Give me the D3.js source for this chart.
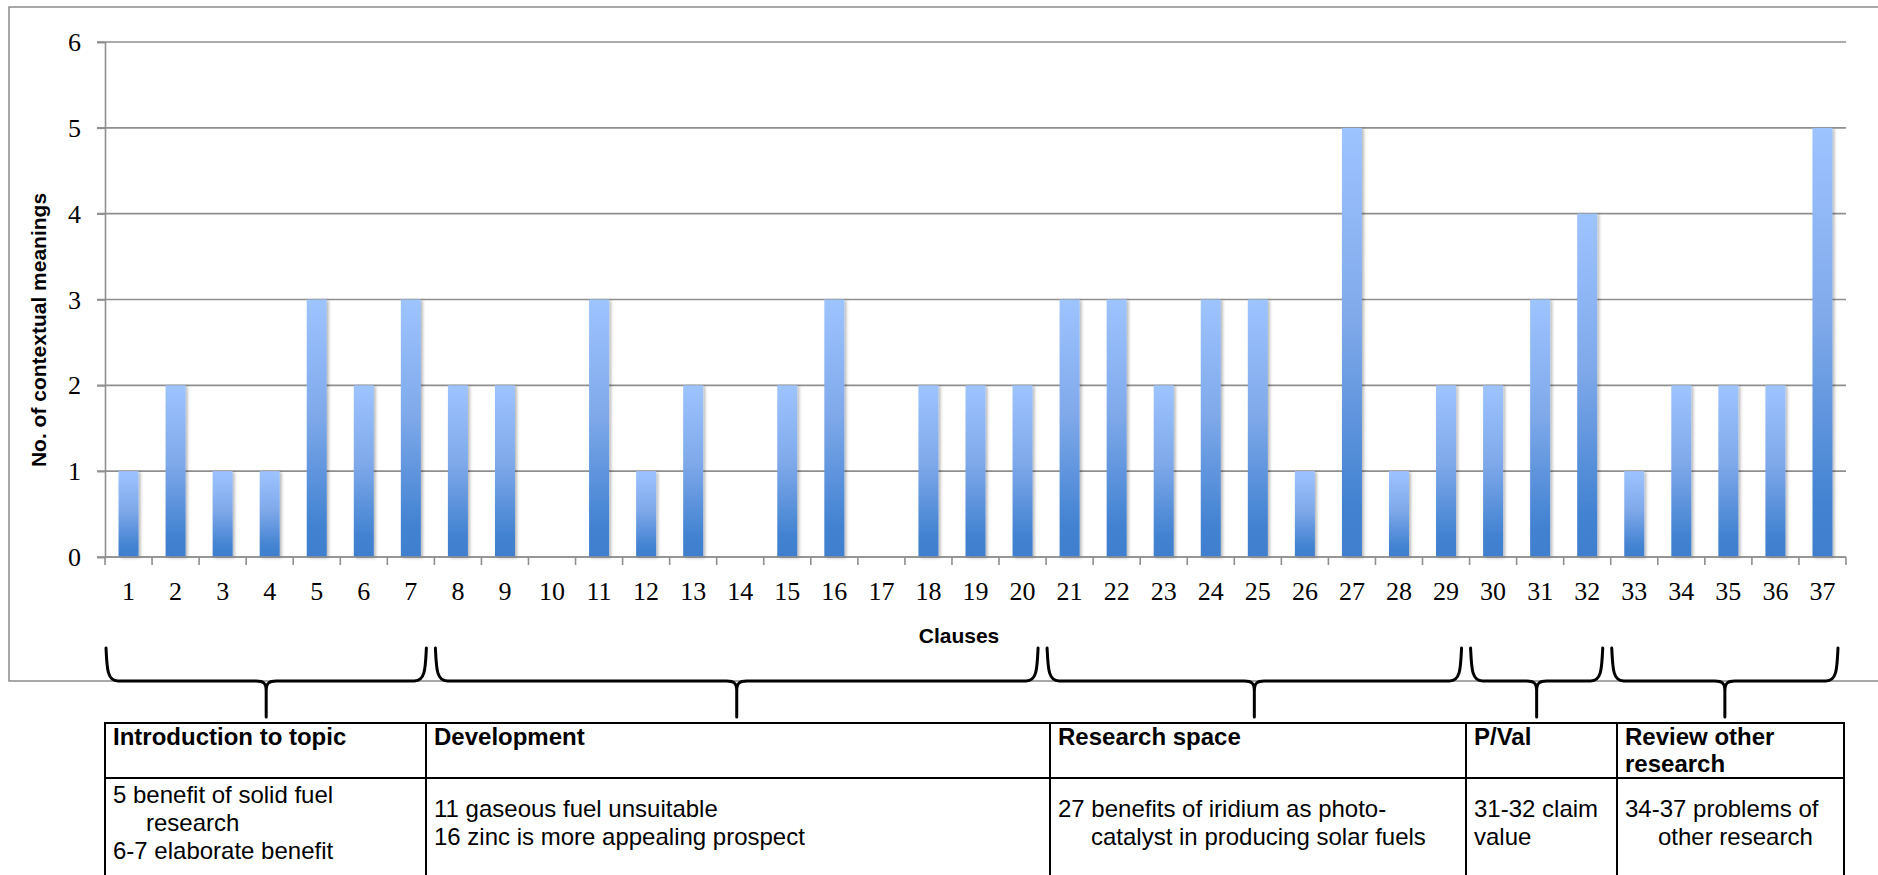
<!DOCTYPE html>
<html>
<head>
<meta charset="utf-8">
<script src="https://cdn.jsdelivr.net/npm/d3@7"></script>
<style>
  html, body { margin: 0; padding: 0; background: #fff; }
  svg { display: block; }
</style>
</head>
<body>
<svg id="chart" width="1878" height="875"></svg>
<script>
// Clause numbers and the count of contextual meanings found in each
const clauses = d3.range(1, 38).map(String);
const meanings = [1, 2, 1, 1, 3, 2, 3, 2, 2, 0, 3, 1, 2, 0, 2, 3, 0, 2, 2, 2,
                  3, 3, 2, 3, 3, 1, 5, 1, 2, 2, 3, 4, 1, 2, 2, 2, 5];
const yTicks = [0, 1, 2, 3, 4, 5, 6];

// Rhetorical sections: first and last clause of each, title and notes
const sectionFirst = [1, 8, 21, 30, 33];
const sectionLast  = [7, 20, 29, 32, 37];
const sectionTitles = [
  ["Introduction to topic"],
  ["Development"],
  ["Research space"],
  ["P/Val"],
  ["Review other", "research"]
];
// each note line: [text, hanging-indent?]
const sectionNotes = [
  [["5 benefit of solid fuel", false], ["research", true], ["6-7 elaborate benefit", false]],
  [["11 gaseous fuel unsuitable", false], ["16 zinc is more appealing prospect", false]],
  [["27 benefits of iridium as photo-", false], ["catalyst in producing solar fuels", true]],
  [["31-32 claim", false], ["value", false]],
  [["34-37 problems of", false], ["other research", true]]
];

const svg = d3.select("#chart");
const sans = "'Liberation Sans', Arial, sans-serif";
const serif = "'Liberation Serif', 'Times New Roman', serif";

// plot area
const plot = { left: 105, right: 1846, top: 42, bottom: 557 };

const x = d3.scaleBand()
  .domain(clauses)
  .range([plot.left, plot.right])
  .paddingInner(0.575)
  .paddingOuter(0.2875);
const step = x.step();
const cx = d => x(d) + x.bandwidth() / 2;

const y = d3.scaleLinear().domain([0, 6]).range([plot.bottom, plot.top]);

// defs: bar gradient and soft shadow
const defs = svg.append("defs");
const grad = defs.append("linearGradient")
  .attr("id", "barGrad").attr("x1", 0).attr("y1", 0).attr("x2", 0).attr("y2", 1);
grad.append("stop").attr("offset", "0%").attr("stop-color", "#9ec4ff");
grad.append("stop").attr("offset", "45%").attr("stop-color", "#7fa9ea");
grad.append("stop").attr("offset", "88%").attr("stop-color", "#4282d1");
grad.append("stop").attr("offset", "100%").attr("stop-color", "#3f7fce");
const shadow = defs.append("filter").attr("id", "barShadow")
  .attr("x", "-30%").attr("y", "-5%").attr("width", "170%").attr("height", "115%");
shadow.append("feDropShadow")
  .attr("dx", 2).attr("dy", 1).attr("stdDeviation", 1.6)
  .attr("flood-color", "#000").attr("flood-opacity", 0.28);

// outer chart frame (runs off the right edge)
svg.append("rect")
  .attr("x", 9).attr("y", 7).attr("width", 1900).attr("height", 674)
  .attr("fill", "none").attr("stroke", "#8c8c8c").attr("stroke-width", 1.5);

// horizontal gridlines
svg.append("g").selectAll("line").data(yTicks).join("line")
  .attr("x1", plot.left - 8).attr("x2", plot.right)
  .attr("y1", d => y(d)).attr("y2", d => y(d))
  .attr("stroke", "#8f8f8f").attr("stroke-width", 1.6);

// y axis
const yAxis = svg.append("g")
  .attr("transform", `translate(${plot.left},0)`)
  .call(d3.axisLeft(y).tickValues(yTicks).tickFormat(d3.format("d")).tickSize(8).tickPadding(16));
yAxis.select(".domain").attr("stroke", "#8f8f8f").attr("stroke-width", 1.6);
yAxis.selectAll(".tick line").attr("stroke", "#8f8f8f").attr("stroke-width", 1.6);
yAxis.selectAll("text").attr("font-family", serif).attr("font-size", 26)
  .attr("fill", "#000").attr("dy", "0.33em");

// bars
svg.append("g").selectAll("rect").data(meanings).join("rect")
  .attr("x", (d, i) => x(clauses[i]))
  .attr("y", d => y(d))
  .attr("width", x.bandwidth())
  .attr("height", d => y(0) - y(d))
  .attr("fill", "url(#barGrad)")
  .attr("filter", "url(#barShadow)");

// x axis line and category-boundary ticks
svg.append("line")
  .attr("x1", plot.left).attr("x2", plot.right)
  .attr("y1", y(0)).attr("y2", y(0))
  .attr("stroke", "#8f8f8f").attr("stroke-width", 1.6);
const boundaries = clauses.map(d => cx(d) - step / 2).concat([cx(clauses[clauses.length - 1]) + step / 2]);
svg.append("g").selectAll("line").data(boundaries).join("line")
  .attr("x1", d => d).attr("x2", d => d)
  .attr("y1", y(0)).attr("y2", y(0) + 8)
  .attr("stroke", "#8f8f8f").attr("stroke-width", 1.6);

// x tick labels
const xAxis = svg.append("g")
  .attr("transform", `translate(0,${y(0)})`)
  .call(d3.axisBottom(x).tickSize(0).tickPadding(24.5));
xAxis.select(".domain").remove();
xAxis.selectAll("text").attr("font-family", serif).attr("font-size", 26).attr("fill", "#000");

// axis titles
svg.append("text")
  .attr("transform", "translate(46,330) rotate(-90)")
  .attr("text-anchor", "middle")
  .attr("font-family", sans).attr("font-weight", "bold").attr("font-size", 21)
  .text("No. of contextual meanings");
svg.append("text")
  .attr("x", 959).attr("y", 643)
  .attr("text-anchor", "middle")
  .attr("font-family", sans).attr("font-weight", "bold").attr("font-size", 21)
  .text("Clauses");

// curly braces grouping the clauses into sections
const braceTop = 648, braceLine = 681, bracePoint = 717, insetL = 1, insetR = 8;
const bracePath = (x0, x1) => {
  const xm = (x0 + x1) / 2;
  return `M${x0},${braceTop} C${x0 + 1},${braceTop + 20} ${x0 + 1},${braceLine} ${x0 + 12},${braceLine}` +
         ` L${xm - 10},${braceLine} C${xm - 3},${braceLine} ${xm},${braceLine + 2} ${xm},${braceLine + 10}` +
         ` L${xm},${bracePoint}` +
         ` M${xm},${braceLine + 10} C${xm},${braceLine + 2} ${xm + 3},${braceLine} ${xm + 10},${braceLine}` +
         ` L${x1 - 12},${braceLine} C${x1 - 1},${braceLine} ${x1 - 1},${braceTop + 20} ${x1},${braceTop}`;
};
svg.append("g").selectAll("path").data(sectionFirst).join("path")
  .attr("d", (f, i) => bracePath(
    cx(String(f)) - step / 2 + insetL,
    cx(String(sectionLast[i])) + step / 2 - insetR))
  .attr("fill", "none").attr("stroke", "#000").attr("stroke-width", 3)
  .attr("stroke-linecap", "round").attr("stroke-linejoin", "round");

// section table
const colEdges = [105, 426, 1050, 1466, 1617, 1844];
const tableTop = 723, headBottom = 778, tableBottom = 900;
const pad = 8, indent = 33, lineH = 28;
const table = svg.append("g").attr("font-family", sans).attr("font-size", 24).attr("fill", "#000");

table.append("g").selectAll("line").data(colEdges).join("line")
  .attr("x1", d => d).attr("x2", d => d)
  .attr("y1", tableTop).attr("y2", tableBottom)
  .attr("stroke", "#000").attr("stroke-width", 2);
table.append("g").selectAll("line").data([tableTop, headBottom]).join("line")
  .attr("x1", colEdges[0] - 1).attr("x2", colEdges[colEdges.length - 1] + 1)
  .attr("y1", d => d).attr("y2", d => d)
  .attr("stroke", "#000").attr("stroke-width", 2);

sectionTitles.forEach((lines, i) => {
  lines.forEach((t, j) => {
    table.append("text")
      .attr("x", colEdges[i] + pad).attr("y", 745 + j * 27)
      .attr("font-weight", "bold").text(t);
  });
});
sectionNotes.forEach((lines, i) => {
  const first = 831 - (lines.length - 1) * lineH / 2;
  lines.forEach(([t, hang], j) => {
    table.append("text")
      .attr("x", colEdges[i] + pad + (hang ? indent : 0))
      .attr("y", first + j * lineH)
      .text(t);
  });
});
</script>
</body>
</html>
